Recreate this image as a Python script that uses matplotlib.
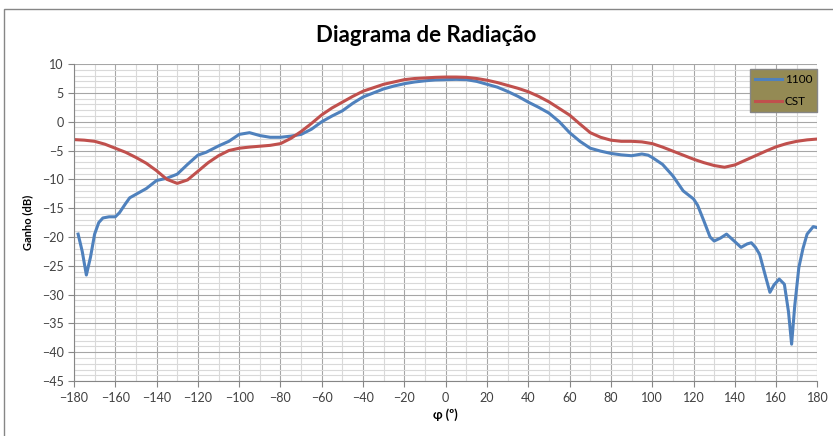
import numpy as np
import matplotlib.pyplot as plt
from matplotlib.patches import Rectangle
from matplotlib.ticker import MultipleLocator

# medições (1100) e simulação (CST)
phi_1100 = [-178, -176, -174, -172, -170, -168, -166, -163, -160, -158, -155, -153,
            -150, -145, -140, -135, -130, -125, -120, -116, -110, -105, -100, -95,
            -90, -85, -80, -75, -70, -65, -60, -55, -50, -45, -40, -35, -30, -25,
            -20, -15, -10, -5, 0, 5, 10, 15, 20, 25, 30, 35, 40, 45, 50, 55, 60,
            65, 70, 75, 80, 85, 90, 95, 98, 100, 105, 110, 115, 120, 122, 125, 128,
            130, 133, 136, 140, 143, 146, 148, 150, 152, 155, 157, 159, 161.5, 164,
            166, 167.5, 169, 171, 173, 175, 178, 180]
g_1100 = [-19.5, -22.5, -26.6, -23.5, -19.5, -17.5, -16.7, -16.5, -16.5, -15.8, -14.2, -13.2,
          -12.6, -11.6, -10.2, -9.8, -9.1, -7.4, -5.8, -5.3, -4.2, -3.4, -2.2, -1.9,
          -2.4, -2.7, -2.7, -2.5, -2.2, -1.3, 0.0, 1.0, 1.9, 3.2, 4.3, 5.0, 5.7, 6.2,
          6.6, 6.9, 7.1, 7.25, 7.3, 7.35, 7.3, 7.0, 6.5, 6.0, 5.25, 4.4, 3.4, 2.5, 1.5, 0.0, -1.9,
          -3.4, -4.6, -5.1, -5.5, -5.75, -5.9, -5.6, -5.8, -6.2, -7.4, -9.4, -12.0, -13.4, -14.5, -17.2, -20.0,
          -20.7, -20.2, -19.5, -20.8, -21.8, -21.2, -21.0, -21.8, -23.0, -27.0, -29.6, -28.3, -27.3, -28.2,
          -33.0, -38.6, -32.0, -25.3, -22.0, -19.5, -18.2, -18.4]

phi_cst = list(range(-180, 181, 5))
g_cst = [-3.1, -3.2, -3.4, -3.9, -4.6, -5.3, -6.2, -7.2, -8.5, -10.0, -10.7, -10.1,
         -8.6, -7.1, -5.9, -5.0, -4.6, -4.4, -4.25, -4.1, -3.8, -2.9, -1.7, -0.3,
         1.2, 2.4, 3.4, 4.4, 5.3, 5.9, 6.5, 6.9, 7.3, 7.5, 7.6, 7.7, 7.75, 7.75,
         7.7, 7.5, 7.2, 6.8, 6.3, 5.8, 5.2, 4.4, 3.45, 2.3, 1.15, -0.4, -1.9, -2.7,
         -3.2, -3.4, -3.4, -3.5, -3.8, -4.4, -5.1, -5.8, -6.5, -7.1, -7.6, -7.9,
         -7.5, -6.7, -5.9, -5.1, -4.35, -3.8, -3.4, -3.15, -3.0]

plt.rcParams['font.family'] = ['Lato', 'DejaVu Sans']

fig = plt.figure(figsize=(8.33, 4.36), dpi=100)
ax = fig.add_axes([0.0888, 0.126, 0.8925, 0.727])

# moldura do gráfico
fig.patches.append(Rectangle((0.005, -0.05), 1.1, 1.03, transform=fig.transFigure,
                             fill=False, edgecolor='#868686', linewidth=1.0))

ax.plot(phi_1100, g_1100, color='#4F81BD', lw=2.2, label='1100', solid_joinstyle='round')
ax.plot(phi_cst, g_cst, color='#C0504D', lw=2.2, label='CST', solid_joinstyle='round')

ax.set_xlim(-180, 180)
ax.set_ylim(-45, 10)
ax.xaxis.set_major_locator(MultipleLocator(20))
ax.xaxis.set_minor_locator(MultipleLocator(10))
ax.yaxis.set_major_locator(MultipleLocator(5))
ax.yaxis.set_minor_locator(MultipleLocator(1))
ax.grid(which='major', color='#a6a6a6', lw=0.8)
ax.grid(which='minor', color='#d9d9d9', lw=0.8)
ax.set_axisbelow(True)

for s in ['top', 'right']:
    ax.spines[s].set_visible(False)
for s in ['left', 'bottom']:
    ax.spines[s].set_color('#868686')
ax.tick_params(which='major', direction='out', length=4, color='#868686',
               labelsize=9, labelcolor='#404040')
ax.tick_params(which='minor', length=0)
ax.tick_params(axis='x', pad=4)

ax.set_xlabel('φ (º)', fontsize=9, fontweight='bold', labelpad=3)
ax.set_ylabel('Ganho (dB)', fontsize=8, fontweight='bold', labelpad=6)
fig.text(0.512, 0.918, 'Diagrama de Radiação', ha='center', va='center',
         fontsize=16, fontweight='bold')

leg = ax.legend(loc='upper right', bbox_to_anchor=(1.0, 0.984), fontsize=8.5,
                frameon=True, fancybox=False, handlelength=2.3, borderpad=0.45,
                labelspacing=0.9, handletextpad=0.2, borderaxespad=0.0)
leg.get_frame().set_facecolor('#948A54')
leg.get_frame().set_edgecolor('#868686')
leg.get_frame().set_alpha(1.0)

fig.savefig('out.png', dpi=100)
